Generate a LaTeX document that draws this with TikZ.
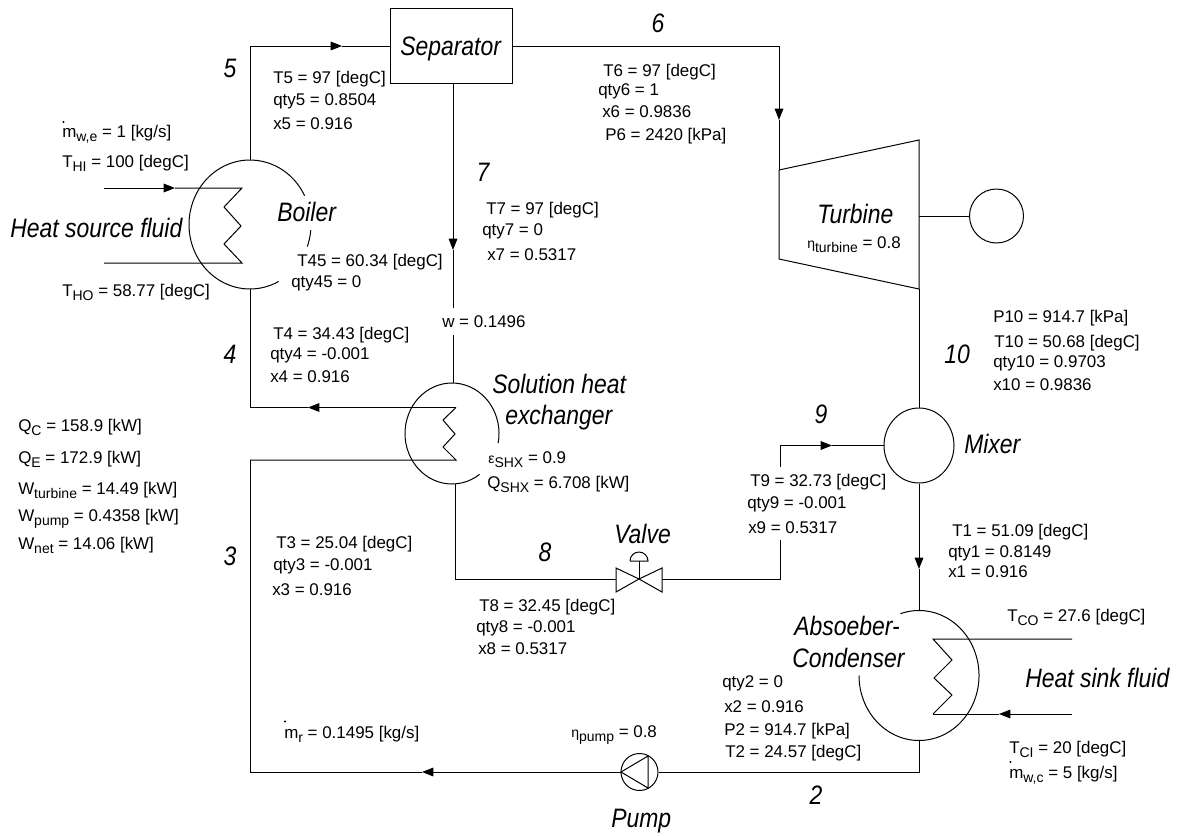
\documentclass[tikz,border=0pt]{standalone}
\usepackage{fontspec}
\setmainfont{Liberation Sans}
\newfontfamily\labfont[FakeStretch=0.86]{Liberation Sans}
\usetikzlibrary{shapes.geometric,arrows.meta,calc}
\newcommand{\sbs}[1]{\raisebox{-3pt}{\fontsize{10.5}{10.5}\selectfont #1}}
\newcommand{\grk}[1]{{\fontsize{10.5}{10.5}\selectfont #1}}
\tikzset{
  x=0.75pt,y=-0.75pt,
  data/.style={anchor=base west,inner sep=0,font=\fontsize{12.7}{15}\selectfont},
  lab/.style={anchor=base west,inner sep=0,font=\labfont\itshape\fontsize{20}{22}\selectfont},
  num/.style={inner sep=0,font=\labfont\itshape\fontsize{20}{22}\selectfont},
  pipe/.style={draw=black,line width=0.75pt},
  tip/.style={pipe,-{Triangle[length=8.5pt,width=6.5pt]}},
  hx/.style={ellipse,inner sep=0,minimum width=#1},
  flowdot/.style={circle,fill=black,inner sep=0,minimum size=1.6pt},
}
\begin{document}
\begin{tikzpicture}
\useasboundingbox (0,0) rectangle (1177,835);
% equipment
\node[pipe,rectangle,inner sep=0,minimum width=122*.75pt,minimum height=75*.75pt] (sep) at (451.5,45.5) {};
\node[hx=122*.75pt,minimum height=129*.75pt] (boiler) at (250,224.5) {};
\node[hx=94*.75pt,minimum height=101*.75pt] (shx) at (452,433.5) {};
\node[hx=120*.75pt,minimum height=130*.75pt] (ac) at (919,675.5) {};
\node[pipe,hx=70*.75pt,minimum height=75*.75pt] (mixer) at (919,445.5) {};
\node[pipe,circle,inner sep=0,minimum size=54*.75pt] (gen) at (996.5,216) {};
\node[pipe,circle,inner sep=0,minimum size=37*.75pt] (pump) at (639.5,772) {};
% ellipses with their gaps
\draw[pipe] (boiler.center) ++(-26.5:61 and 64.5) arc[start angle=-26.5,end angle=-298,x radius=61,y radius=64.5];
\draw[pipe] (boiler.center) ++(5:61 and 64.5) arc[start angle=5,end angle=20,x radius=61,y radius=64.5];
\draw[pipe] (shx.center) ++(11:47 and 50.5) arc[start angle=11,end angle=-306,x radius=47,y radius=50.5];
\draw[pipe] (ac.center) ++(-108:60 and 65) arc[start angle=-108,end angle=180,x radius=60,y radius=65];
% turbine
\coordinate (tTL) at (779,170); \coordinate (tTR) at (919,140);
\coordinate (tBR) at (919,289); \coordinate (tBL) at (779,259);
\draw[pipe] (tTL) -- (tTR) -- (tBR) -- (tBL) -- cycle;
% valve
\coordinate (vc) at (639,579);
\coordinate (vL) at (616,579); \coordinate (vR) at (662,579);
\draw[pipe] (vc) -- (616,568) -- (616,592) -- cycle;
\draw[pipe] (vc) -- (662,568) -- (662,592) -- cycle;
\draw[pipe] (vc) -- (639,561);
\draw[pipe] (630,561) -- (648,561) arc[start angle=0,end angle=-180,radius=9];
% pump inner triangle
\coordinate (pT) at (621,772);
\draw[pipe] (pT) -- (648,756) -- (648,788) -- cycle;
% coils
\coordinate (cA) at (104,188);
\coordinate (aA) at (175,188);
\draw[tip] (cA) -- (aA);
\draw[pipe] (aA) -- (242,188) -- (224,207) -- (241,226) -- (224,244) -- (242,263) -- (104,263);
\coordinate (hL) at (250,407.5); \coordinate (hB) at (250,460);
\coordinate (a4) at (308,407.5);
\draw[tip] (456,407.5) -- (a4);
\draw[pipe] (a4) -- (hL);
\draw[pipe] (456,407.5) -- (443,420) -- (455,434) -- (443,447) -- (456,460) -- (hB);
\draw[pipe] (1072,639) -- (933,639) -- (952,660) -- (934,678) -- (952,695) -- (933,714);
\coordinate (aS) at (999,714);
\draw[tip] (1072,714) -- (aS);
\draw[pipe] (aS) -- (933,714);
% connectors
\coordinate (c5) at (250,46);
\coordinate (a5) at (342,46);
\draw[pipe] (boiler.north) -- (c5);
\draw[tip] (c5) -- (a5);
\draw[pipe] (a5) -- (sep.west |- a5);
\coordinate (c6) at (779,46);
\coordinate (a6) at (779,120);
\draw[pipe] (sep.east |- c6) -- (c6);
\draw[tip] (c6) -- (a6);
\draw[pipe] (a6) -- (tTL);
\coordinate (s7) at (453,83);
\coordinate (a7) at (453,250);
\coordinate (w1) at (453,308);
\coordinate (w2) at (453,335);
\draw[tip] (s7) -- (a7);
\draw[pipe] (a7) -- (w1);
\draw[pipe] (w2) -- (shx.north -| w2);
\draw[pipe] (boiler.south) -- (hL);
\coordinate (p3) at (250,772);
\draw[pipe] (hB) -- (p3);
\coordinate (a3) at (422,772);
\draw[tip] (pT) -- (a3);
\draw[pipe] (a3) -- (p3);
\coordinate (p2) at (919,772);
\draw[pipe] (pump.east) -- (p2) -- (ac.south);
\coordinate (sb) at (455,484);
\draw[pipe] (sb) |- (vL);
\coordinate (k9) at (780,467);
\coordinate (j9) at (780,540);
\draw[pipe] (vR) -| (j9);
\coordinate (b9) at (780,445.5);
\coordinate (a9) at (832,445.5);
\draw[pipe] (k9) -- (b9);
\draw[tip] (b9) -- (a9);
\draw[pipe] (a9) -- (mixer.west);
\draw[pipe] (tBR) -- (mixer.north);
\coordinate (a1) at (919,569);
\draw[tip] (mixer.south) -- (a1);
\draw[pipe] (a1) -- (ac.north);
\coordinate (tG) at (919,216);
\draw[pipe] (tG) -- (gen.west);
% big labels
\node[lab] (lsep) at (400,55) {Separator};
\node[lab] (lboil) at (277,221) {Boiler};
\node[lab] (lhsf) at (10,237) {Heat source fluid};
\node[lab] (lsol) at (492,393) {Solution heat};
\node[lab] (lexc) at (505,424) {exchanger};
\node[lab] (ltur) at (817,223) {Turbine};
\node[lab] (lmix) at (964,453) {Mixer};
\node[lab] (lval) at (614,543) {Valve};
\node[lab] (labs) at (794,635) {Absoeber-};
\node[lab] (lcon) at (792,667) {Condenser};
\node[lab] (lhsk) at (1025,687) {Heat sink fluid};
\node[lab] (lpmp) at (611,827) {Pump};
\node[num] (n5) at (230,68) {5};
\node[num] (n6) at (658,23) {6};
\node[num] (n7) at (483,172) {7};
\node[num] (n4) at (230,354) {4};
\node[num] (n3) at (230,556) {3};
\node[num] (n8) at (545,552) {8};
\node[num] (n9) at (821,414) {9};
\node[num] (n10) at (957,354) {10};
\node[num] (n2) at (816,795) {2};
% data
\node[data] (d1) at (273,83) {T5 = 97 [degC]};
\node[data] (d2) at (273,105) {qty5 = 0.8504};
\node[data] (d3) at (273,129) {x5 = 0.916};
\node[data] (d4) at (62,137) {m\sbs{w,e} = 1 [kg/s]};
\node[flowdot] (dot1) at (63.5,122) {};
\node[data] (d5) at (62,167) {T\sbs{HI} = 100 [degC]};
\node[data] (d6) at (62,296) {T\sbs{HO} = 58.77 [degC]};
\node[data] (d7) at (297,266) {T45 = 60.34 [degC]};
\node[data] (d8) at (291,287) {qty45 = 0};
\node[data] (d9) at (603,76) {T6 = 97 [degC]};
\node[data] (d10) at (598,95) {qty6 = 1};
\node[data] (d11) at (602,117) {x6 = 0.9836};
\node[data] (d12) at (605,140) {P6 = 2420 [kPa]};
\node[data] (d13) at (486,214) {T7 = 97 [degC]};
\node[data] (d14) at (482,235) {qty7 = 0};
\node[data] (d15) at (487,260) {x7 = 0.5317};
\node[data] (w) at (442,327) {w = 0.1496};
\node[data] (d16) at (273,339) {T4 = 34.43 [degC]};
\node[data] (d17) at (270,359) {qty4 = -0.001};
\node[data] (d18) at (270,382) {x4 = 0.916};
\node[data] (d19) at (18,431) {Q\sbs{C} = 158.9 [kW]};
\node[data] (d20) at (18,463) {Q\sbs{E} = 172.9 [kW]};
\node[data] (d21) at (18,494) {W\sbs{turbine} = 14.49 [kW]};
\node[data] (d22) at (18,521) {W\sbs{pump} = 0.4358 [kW]};
\node[data] (d23) at (18,549) {W\sbs{net} = 14.06 [kW]};
\node[data] (d24) at (276,548) {T3 = 25.04 [degC]};
\node[data] (d25) at (273,570) {qty3 = -0.001};
\node[data] (d26) at (272,595) {x3 = 0.916};
\node[data] (d27) at (488,463) {\grk{ε}\sbs{SHX} = 0.9};
\node[data] (d28) at (487,488) {Q\sbs{SHX} = 6.708 [kW]};
\node[data] (d29) at (479,611) {T8 = 32.45 [degC]};
\node[data] (d30) at (476,632) {qty8 = -0.001};
\node[data] (d31) at (478,654) {x8 = 0.5317};
\node[data] (d32) at (750,486) {T9 = 32.73 [degC]};
\node[data] (d33) at (747,508) {qty9 = -0.001};
\node[data] (d34) at (748,533) {x9 = 0.5317};
\node[data] (d35) at (952,536) {T1 = 51.09 [degC]};
\node[data] (d36) at (948,557) {qty1 = 0.8149};
\node[data] (d37) at (948,577) {x1 = 0.916};
\node[data] (d38) at (993,322) {P10 = 914.7 [kPa]};
\node[data] (d39) at (994,347) {T10 = 50.68 [degC]};
\node[data] (d40) at (993,367) {qty10 = 0.9703};
\node[data] (d41) at (993,390) {x10 = 0.9836};
\node[data] (d42) at (807,248) {\grk{η}\sbs{turbine} = 0.8};
\node[data] (d43) at (1007,621) {T\sbs{CO} = 27.6 [degC]};
\node[data] (d44) at (1009,753) {T\sbs{CI} = 20 [degC]};
\node[data] (d45) at (1009,778) {m\sbs{w,c} = 5 [kg/s]};
\node[flowdot] (dot2) at (1010.5,762) {};
\node[data] (d46) at (722,687) {qty2 = 0};
\node[data] (d47) at (724,712) {x2 = 0.916};
\node[data] (d48) at (724,735) {P2 = 914.7 [kPa]};
\node[data] (d49) at (725,757) {T2 = 24.57 [degC]};
\node[data] (d50) at (571,737) {\grk{η}\sbs{pump} = 0.8};
\node[data] (d51) at (284,738) {m\sbs{r} = 0.1495 [kg/s]};
\node[flowdot] (dot3) at (285,721.5) {};
\end{tikzpicture}
\end{document}
